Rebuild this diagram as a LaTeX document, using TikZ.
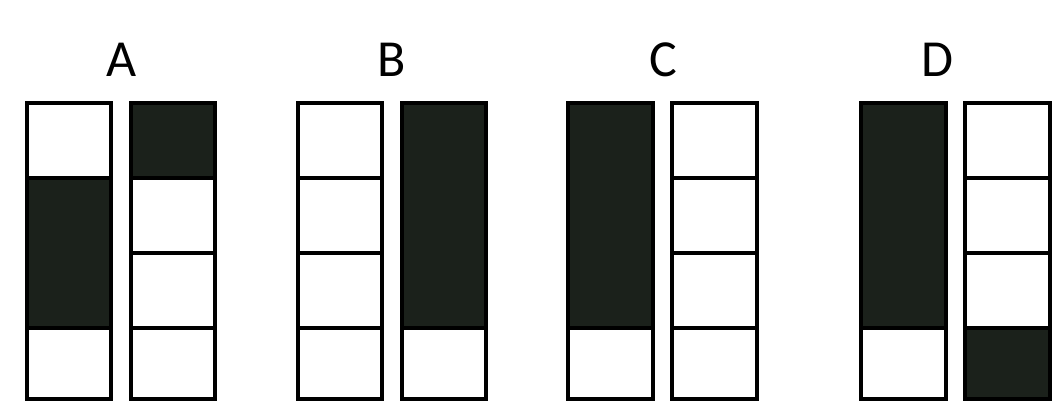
\documentclass[tikz,border=0pt]{standalone}
\usepackage{fontspec}
\setmainfont{Carlito}
\definecolor{ink}{HTML}{1B211B}
\begin{document}
\begin{tikzpicture}[x=1pt,y=-1pt,
  seg/.style={draw=black,line width=3.6pt,fill=white},
  dark/.style={draw=black,line width=3.6pt,fill=ink},
  lbl/.style={font=\fontsize{52}{60}\selectfont,inner sep=0pt,anchor=base}]
\useasboundingbox (0,0) rectangle (1055,401);
% row boundaries: 103, 178, 253, 328, 399
% ---- A ----
\node[lbl] (la) at (122,77) {A};
\draw[seg]  (27,103) rectangle (111,178);
\draw[dark] (27,178) rectangle (111,328);
\draw[seg]  (27,328) rectangle (111,399);
\draw[dark] (131,103) rectangle (215,178);
\draw[seg]  (131,178) rectangle (215,253);
\draw[seg]  (131,253) rectangle (215,328);
\draw[seg]  (131,328) rectangle (215,399);
% ---- B ----
\node[lbl] (lb) at (392,77) {B};
\draw[seg]  (298,103) rectangle (382,178);
\draw[seg]  (298,178) rectangle (382,253);
\draw[seg]  (298,253) rectangle (382,328);
\draw[seg]  (298,328) rectangle (382,399);
\draw[dark] (402,103) rectangle (486,328);
\draw[seg]  (402,328) rectangle (486,399);
% ---- C ----
\node[lbl] (lc) at (663,77) {C};
\draw[dark] (568,103) rectangle (653,328);
\draw[seg]  (568,328) rectangle (653,399);
\draw[seg]  (672,103) rectangle (757,178);
\draw[seg]  (672,178) rectangle (757,253);
\draw[seg]  (672,253) rectangle (757,328);
\draw[seg]  (672,328) rectangle (757,399);
% ---- D ----
\node[lbl] (ld) at (937,77) {D};
\draw[dark] (861,103) rectangle (946,328);
\draw[seg]  (861,328) rectangle (946,399);
\draw[seg]  (965,103) rectangle (1050,178);
\draw[seg]  (965,178) rectangle (1050,253);
\draw[seg]  (965,253) rectangle (1050,328);
\draw[dark] (965,328) rectangle (1050,399);
\end{tikzpicture}
\end{document}
